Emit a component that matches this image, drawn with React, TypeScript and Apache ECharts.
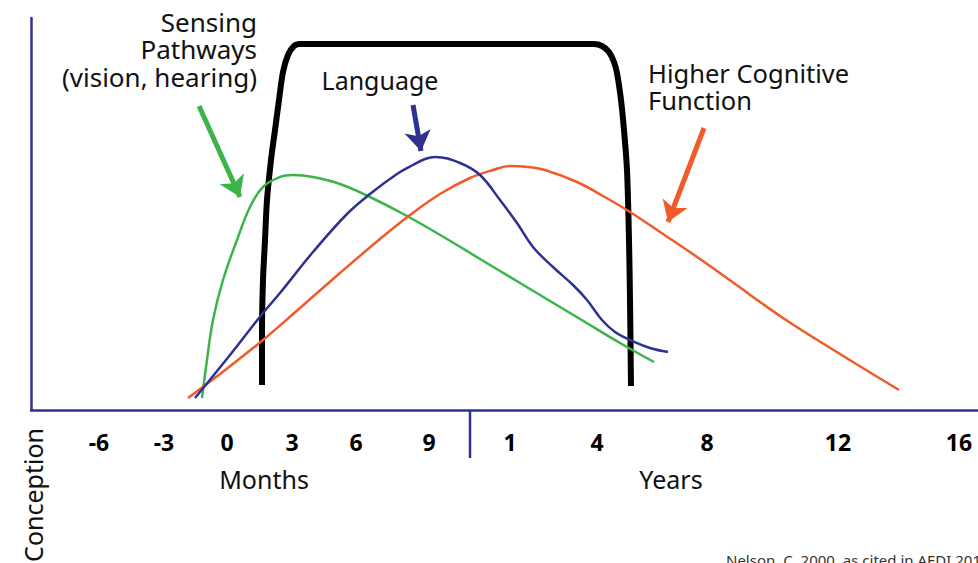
import React, { useEffect, useRef } from "react";
import * as echarts from "echarts";

// Timeline positions (arbitrary layout units along the developmental axis) and intensity values
const tickPositions = [68, 133, 196, 261, 325, 398, 479, 566, 676, 807, 928];
const tickLabels = ["-6", "-3", "0", "3", "6", "9", "1", "4", "8", "12", "16"];
const unitPositions = [233, 640];
const unitLabels = ["Months", "Years"];
const dividerPositions = [439];

const sensingX = [171, 176, 182, 192, 206, 219, 232, 249, 262, 282, 309, 339, 376, 416, 449, 489, 519, 549, 589, 623];
const sensingY = [12, 50, 90, 130, 170, 203, 223, 233, 235, 233, 226, 213, 194, 171, 151, 127, 109, 91, 67, 48];

const languageX = [164, 199, 232, 249, 282, 316, 339, 366, 382, 394, 404, 429, 449, 469, 486, 502, 522, 542, 556, 571, 584, 599, 619, 637];
const languageY = [12, 55, 97, 117, 158, 196, 216, 236, 245, 251, 253, 247, 235, 210, 187, 163, 143, 125, 110, 90, 78, 70, 62, 58];

const cognitiveX = [157, 189, 232, 269, 309, 349, 379, 409, 439, 462, 479, 497, 514, 546, 572, 599, 629, 669, 700, 752, 809, 868];
const cognitiveY = [12, 36, 70, 102, 137, 171, 195, 216, 232, 240, 244, 243, 240, 228, 214, 198, 178, 151, 129, 92, 56, 20];

const criticalX = [231, 231, 232, 234, 236, 240, 244, 248, 252, 257, 263, 269, 563, 571, 578, 583, 586, 590, 593, 596, 598, 599, 600];
const criticalY = [25, 80, 130, 170, 210, 250, 280, 310, 338, 355, 364, 366, 366, 364, 358, 348, 337, 310, 280, 240, 170, 110, 24];

const arrowStarts = [[168, 304], [382, 305], [673, 282]];
const arrowEnds = [[209, 213], [390, 259], [637, 188]];

const GREEN = "#3cb44a";
const BLUE = "#2e3192";
const ORANGE = "#f15a29";
const NAVY = "#2e3192";
const FONT = '"Noto Sans", "DejaVu Sans", sans-serif';

const zip = (xs: number[], ys: number[]) => xs.map((x, i) => [x, ys[i]]);

export default function App() {
  const ref = useRef<HTMLDivElement>(null);
  useEffect(() => {
    document.body.style.margin = "0";
    const chart = echarts.init(ref.current!, null, { renderer: "svg" });
    const arrowColors = [GREEN, BLUE, ORANGE];
    const curve = (name: string, xs: number[], ys: number[], color: string, width: number, z: number, smooth: number) => ({
      type: "line",
      name,
      data: zip(xs, ys),
      smooth,
      showSymbol: false,
      lineStyle: { color, width, cap: "butt", join: "round" },
      z,
    });
    chart.setOption({
      animation: false,
      grid: { left: 31, right: 0, top: 18, bottom: 153 },
      xAxis: {
        type: "value",
        min: 0,
        max: 947,
        axisLine: { show: true, lineStyle: { color: NAVY, width: 2.5 } },
        axisTick: { show: false },
        axisLabel: { show: false },
        splitLine: { show: false },
      },
      yAxis: {
        type: "value",
        min: 0,
        max: 392,
        axisLine: { show: true, lineStyle: { color: NAVY, width: 2.5 } },
        axisTick: { show: false },
        axisLabel: { show: false },
        splitLine: { show: false },
      },
      series: [
        curve("Critical period", criticalX, criticalY, "#000", 6, 2, 0.3),
        curve("Sensing Pathways", sensingX, sensingY, GREEN, 2.5, 3, 0.4),
        curve("Higher Cognitive Function", cognitiveX, cognitiveY, ORANGE, 2.5, 3, 0.4),
        curve("Language", languageX, languageY, BLUE, 2.5, 4, 0.4),
        {
          type: "lines",
          coordinateSystem: "cartesian2d",
          symbol: ["none", "arrow"],
          symbolSize: 20,
          data: arrowStarts.map((s, i) => ({
            coords: [s, arrowEnds[i]],
            lineStyle: { color: arrowColors[i], width: 5 },
          })),
          lineStyle: { width: 5, opacity: 1 },
          z: 5,
        },
        {
          type: "custom",
          name: "ticks",
          silent: true,
          clip: false,
          data: tickPositions.map((x) => [x, 0]),
          encode: { x: 0, y: 1 },
          renderItem: (params: any, api: any) => {
            const p = api.coord([api.value(0), 0]);
            return {
              type: "text",
              x: p[0],
              y: p[1] + 32,
              style: {
                text: tickLabels[params.dataIndex],
                fill: "#000",
                font: `bold 23px ${FONT}`,
                align: "center",
                verticalAlign: "middle",
              },
            };
          },
        },
        {
          type: "custom",
          name: "units",
          silent: true,
          clip: false,
          data: unitPositions.map((x) => [x, 0]),
          encode: { x: 0, y: 1 },
          renderItem: (params: any, api: any) => {
            const p = api.coord([api.value(0), 0]);
            return {
              type: "text",
              x: p[0],
              y: p[1] + 69,
              style: {
                text: unitLabels[params.dataIndex],
                fill: "#111",
                font: `25px ${FONT}`,
                align: "center",
                verticalAlign: "middle",
              },
            };
          },
        },
        {
          type: "custom",
          name: "divider",
          silent: true,
          clip: false,
          data: dividerPositions.map((x) => [x, 0]),
          encode: { x: 0, y: 1 },
          renderItem: (params: any, api: any) => {
            const p = api.coord([api.value(0), 0]);
            return {
              type: "line",
              shape: { x1: p[0], y1: p[1], x2: p[0], y2: p[1] + 48 },
              style: { stroke: NAVY, lineWidth: 2.5 },
            };
          },
        },
      ],
      graphic: [
        {
          type: "text",
          x: 257,
          y: 8,
          style: {
            text: "Sensing\nPathways\n(vision, hearing)",
            fill: "#111",
            font: `26px ${FONT}`,
            lineHeight: 27.5,
            align: "right",
            verticalAlign: "top",
          },
        },
        {
          type: "text",
          x: 380,
          y: 80,
          style: {
            text: "Language",
            fill: "#111",
            font: `25px ${FONT}`,
            align: "center",
            verticalAlign: "middle",
          },
        },
        {
          type: "text",
          x: 648,
          y: 59,
          style: {
            text: "Higher Cognitive\nFunction",
            fill: "#111",
            font: `25.5px ${FONT}`,
            lineHeight: 27,
            align: "left",
            verticalAlign: "top",
          },
        },
        {
          type: "text",
          x: 33,
          y: 428,
          rotation: Math.PI / 2,
          style: {
            text: "Conception",
            fill: "#111",
            font: `25px ${FONT}`,
            align: "right",
            verticalAlign: "middle",
          },
        },
        {
          type: "text",
          x: 726,
          y: 552,
          style: {
            text: "Nelson, C. 2000, as cited in AEDI 2011",
            fill: "#333",
            font: `15px ${FONT}`,
            align: "left",
            verticalAlign: "top",
          },
        },
      ],
    });
    return () => chart.dispose();
  }, []);
  return (
    <div
      ref={ref}
      style={{ position: "fixed", left: 0, top: 0, width: 978, height: 563, background: "#fff" }}
    />
  );
}
